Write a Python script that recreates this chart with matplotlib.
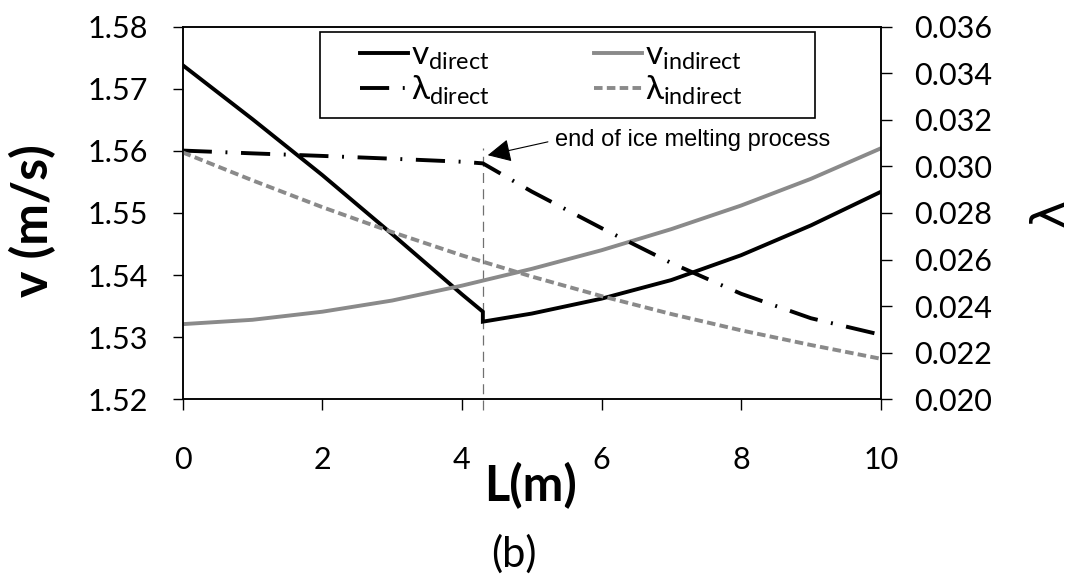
import matplotlib
matplotlib.use("Agg")
import matplotlib.pyplot as plt
from matplotlib.patches import Rectangle

plt.rcParams["font.family"] = ["Lato", "DejaVu Sans"]
plt.rcParams["mathtext.fontset"] = "custom"
plt.rcParams["mathtext.rm"] = "Lato"
plt.rcParams["mathtext.fallback"] = "stixsans"

# data
L_direct = [0, 1, 2, 3, 4, 4.3, 4.3, 5, 6, 7, 8, 9, 10]
v_direct = [1.5738, 1.5651, 1.5561, 1.5466, 1.5369, 1.5341, 1.5325,
            1.5338, 1.5362, 1.5392, 1.5432, 1.5480, 1.5534]
lam_direct = [0.03068, 0.03056, 0.03045, 0.03033, 0.03020, 0.03013, 0.03013,
              0.02892, 0.02735, 0.02585, 0.02453, 0.02348, 0.02277]

L_indirect = [0, 1, 2, 3, 4, 5, 6, 7, 8, 9, 10]
v_indirect = [1.5321, 1.5328, 1.5341, 1.5359, 1.5383, 1.5410,
              1.5440, 1.5474, 1.5512, 1.5555, 1.5604]
lam_indirect = [0.03060, 0.02940, 0.02825, 0.02718, 0.02618, 0.02527,
                0.02443, 0.02366, 0.02296, 0.02233, 0.02174]

L_melt = 4.3
x_ticks = [0, 2, 4, 6, 8, 10]
v_ticks = [1.52, 1.53, 1.54, 1.55, 1.56, 1.57, 1.58]
lam_ticks = [0.020, 0.022, 0.024, 0.026, 0.028, 0.030, 0.032, 0.034, 0.036]

fig = plt.figure(figsize=(10.78, 5.8), dpi=100)
ax = fig.add_axes([0.1695, 0.3116, 0.6475, 0.6424])
ax2 = ax.twinx()

gray = "#8a8a8a"
lw = 2.8

l1, = ax.plot(L_direct, v_direct, color="black", lw=lw, solid_joinstyle="miter")
l3, = ax.plot(L_indirect, v_indirect, color=gray, lw=lw)
l2, = ax2.plot(L_direct, lam_direct, color="black", lw=lw,
               linestyle=(0, (7.5, 3.5, 0.5, 3.5)))
l4, = ax2.plot(L_indirect, lam_indirect, color=gray, lw=lw,
               linestyle=(0, (2.2, 1.1)))

# marker line for end of ice melting
ax.plot([L_melt, L_melt], [1.5183, 1.5605], color="#707070", lw=0.9,
        linestyle=(0, (8, 5)), clip_on=False, zorder=1)

ax.set_xlim(0, 10)
ax.set_ylim(1.52, 1.58)
ax2.set_ylim(0.020, 0.036)
ax.set_xticks(x_ticks)
ax.set_yticks(v_ticks)
ax2.set_yticks(lam_ticks)
ax.set_yticklabels([f"{t:.2f}" for t in v_ticks])
ax2.set_yticklabels([f"{t:.3f}" for t in lam_ticks])

ax.tick_params(axis="y", direction="out", length=7, width=1, pad=18, labelsize=22)
ax.tick_params(axis="x", direction="out", length=8, width=1, pad=26, labelsize=22)
ax2.tick_params(axis="y", direction="out", length=8, width=1, pad=16, labelsize=22)
for a in (ax, ax2):
    for s in a.spines.values():
        s.set_linewidth(1.1)

ax.annotate("end of ice melting process", xy=(4.37, 1.5593), xytext=(5.33, 1.5617),
            fontsize=17, family=["Liberation Sans", "DejaVu Sans"],
            ha="left", va="center",
            arrowprops=dict(arrowstyle="-|>", color="black", lw=0.8,
                            mutation_scale=36, shrinkA=3, shrinkB=0,
                            relpos=(0, 0.5)))

# legend box drawn separately so the padding can match
ax2.add_patch(Rectangle((0.197, 0.755), 0.709, 0.231, transform=ax.transAxes,
                        facecolor="white", edgecolor="black", lw=1.2, zorder=5))
leg = ax2.legend([l1, l2, l3, l4],
                 [r"$\mathregular{v_{direct}}$", r"$\mathregular{λ_{direct}}$",
                  r"$\mathregular{v_{indirect}}$", r"$\mathregular{λ_{indirect}}$"],
                 ncol=2, loc="center", bbox_to_anchor=(0.528, 0.873),
                 fontsize=24, frameon=False, handlelength=1.45,
                 handletextpad=0.1, labelspacing=0.05, columnspacing=3.1,
                 borderpad=0)
leg.set_zorder(6)

fig.text(33 / 1078, 1 - 221 / 580, "v (m/s)", rotation=90, fontsize=36,
         fontweight="bold", ha="center", va="center")
fig.text(1051 / 1078, 1 - 213 / 580, "λ", rotation=90, fontsize=34,
         family=["DejaVu Sans"], ha="center", va="center")
fig.text(531 / 1078, 1 - 486 / 580, "L(m)", fontsize=35, fontweight="bold",
         ha="center", va="center")
fig.text(514 / 1078, 1 - 554 / 580, "(b)", fontsize=30, ha="center", va="center")

fig.savefig("out.png", dpi=100, facecolor="white")
